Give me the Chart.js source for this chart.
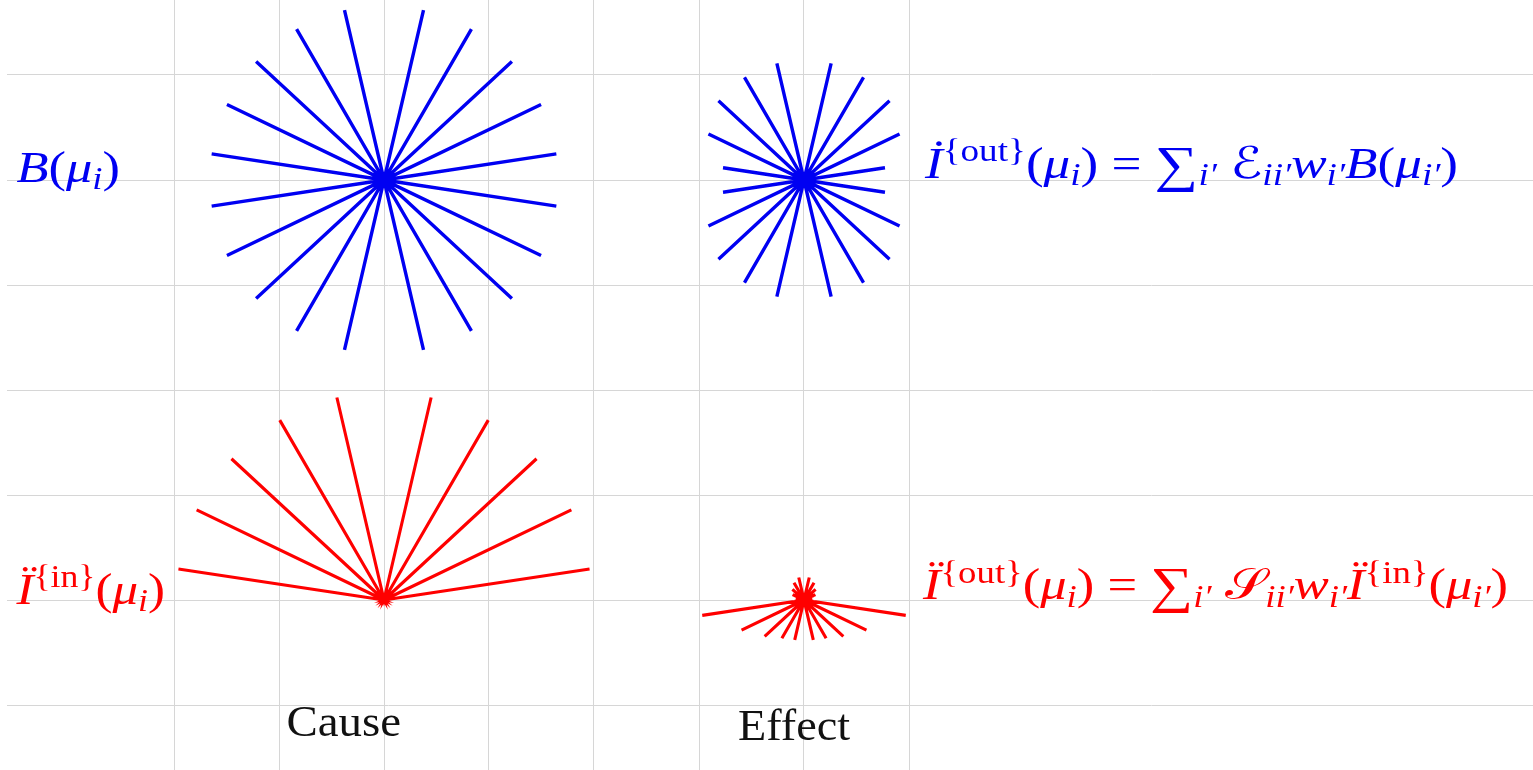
<!DOCTYPE html>
<html>
<head>
<meta charset="utf-8">
<title>Cause and effect</title>
<script src="https://cdn.jsdelivr.net/npm/chart.js@4.4.1/dist/chart.umd.min.js"></script>
<style>
  html, body { margin: 0; padding: 0; background: #fff; }
  canvas { display: block; }
</style>
</head>
<body>
<canvas id="chart" width="1533" height="770"></canvas>
<script>
// ray directions above the horizontal, in degrees (the mu_i directions)
const rayAngles = [8.6, 25.7, 42.8, 59.9, 76.9];

// ray lengths in grid units, for the upper and the lower half of each star
const causeBUp = [1.66, 1.66, 1.66, 1.66, 1.66];
const causeBDown = [1.66, 1.66, 1.66, 1.66, 1.66];
const effectBUp = [0.78, 1.01, 1.11, 1.13, 1.14];
const effectBDown = [0.78, 1.01, 1.11, 1.13, 1.14];
const causeIUp = [1.98, 1.98, 1.98, 1.98, 1.98];
const causeIDown = [0, 0, 0, 0, 0];
const effectIUp = [0.08, 0.12, 0.15, 0.19, 0.22];
const effectIDown = [0.98, 0.66, 0.51, 0.42, 0.39];

// star centres (grid units)
const causeX = 0;
const effectX = 4;
const rowB = 0;
const rowI = -4;

// grid lines
const gridX = [-2, -1, 0, 1, 2, 3, 4, 5];
const gridY = [1, 0, -1, -2, -3, -4, -5];

const BLUE = '#0000f2';
const RED = '#ff0000';
const FAMILY = "'Liberation Serif', 'DejaVu Serif', 'DejaVu Sans', serif";

// build one star as a path that goes out to each tip and back to the centre
function star(cx, cy, up, down) {
  const pts = [{ x: cx, y: cy }];
  const rays = [];
  rayAngles.forEach((deg, k) => {
    const a = deg * Math.PI / 180;
    rays.push([a, up[k]], [Math.PI - a, up[k]], [-a, down[k]], [Math.PI + a, down[k]]);
  });
  rays.sort((p, q) => p[0] - q[0]);
  rays.forEach(([a, len]) => {
    if (!len) return;
    pts.push({ x: cx + len * Math.cos(a), y: cy + len * Math.sin(a) });
    pts.push({ x: cx, y: cy });
  });
  return pts;
}

function starSet(label, data, color, width) {
  return {
    label,
    data,
    showLine: true,
    borderColor: color,
    borderWidth: width,
    borderJoinStyle: 'miter',
    borderCapStyle: 'butt',
    pointRadius: 0,
    tension: 0,
    fill: false,
  };
}

// math labels: runs of [text, italic, level (1 sup, -1 sub), scale]
const texts = [
  { color: BLUE, x0: -3.50, x1: -2.514, y: -0.019, size: 44,
    runs: [['B', 1], ['(', 0], ['μ', 1], ['i', 1, -1], [')', 0]] },
  { color: BLUE, x0: 5.152, x1: 10.229, y: 0.019, size: 44,
    runs: [['İ', 1], ['{out}', 0, 1], ['(', 0], ['μ', 1], ['i', 1, -1], [')', 0], [' = ', 0],
      ['∑', 0, 0, 1.15], ['i′', 1, -1], [' ', 0], ['ℰ', 0], ['ii′', 1, -1], ['w', 1], ['i′', 1, -1],
      ['B', 1], ['(', 0], ['μ', 1], ['i′', 1, -1], [')', 0]] },
  { color: RED, x0: -3.50, x1: -2.086, y: -4.038, size: 44,
    runs: [['Ï', 1], ['{in}', 0, 1], ['(', 0], ['μ', 1], ['i', 1, -1], [')', 0]] },
  { color: RED, x0: 5.133, x1: 10.705, y: -3.995, size: 44,
    runs: [['Ï', 1], ['{out}', 0, 1], ['(', 0], ['μ', 1], ['i', 1, -1], [')', 0], [' = ', 0],
      ['∑', 0, 0, 1.15], ['i′', 1, -1], [' ', 0], ['𝒮', 0], ['ii′', 1, -1], ['w', 1], ['i′', 1, -1],
      ['Ï', 1], ['{in}', 0, 1], ['(', 0], ['μ', 1], ['i′', 1, -1], [')', 0]] },
  { color: '#111', x0: -0.929, x1: 0.162, y: -5.295, size: 44, runs: [['Cause', 0]] },
  { color: '#111', x0: 3.371, x1: 4.438, y: -5.333, size: 44, runs: [['Effect', 0]] },
];

const mathLabels = {
  id: 'mathLabels',
  afterDatasetsDraw(chart) {
    const ctx = chart.ctx;
    const sx = chart.scales.x;
    const sy = chart.scales.y;
    texts.forEach((t) => {
      const parts = t.runs.map(([s, it, level, scale]) => {
        const lv = level || 0;
        const size = t.size * (lv ? 0.7 : 1) * (scale || 1);
        const font = (it ? 'italic ' : '') + size + 'px ' + FAMILY;
        ctx.font = font;
        const dy = lv > 0 ? -0.38 * t.size : lv < 0 ? 0.17 * t.size : (scale ? 0.06 * t.size : 0);
        return { s, font, dy, w: ctx.measureText(s).width };
      });
      const total = parts.reduce((acc, p) => acc + p.w, 0);
      const left = sx.getPixelForValue(t.x0);
      const right = sx.getPixelForValue(t.x1);
      const base = sy.getPixelForValue(t.y);
      ctx.save();
      ctx.translate(left, base);
      ctx.scale((right - left) / total, 1);
      ctx.fillStyle = t.color;
      ctx.textBaseline = 'alphabetic';
      ctx.textAlign = 'left';
      let x = 0;
      parts.forEach((p) => {
        ctx.font = p.font;
        ctx.fillText(p.s, x, p.dy);
        x += p.w;
      });
      ctx.restore();
    });
  },
};

const gridColor = '#d6d6d6';

new Chart(document.getElementById('chart'), {
  type: 'scatter',
  data: {
    datasets: [
      starSet('B cause', star(causeX, rowB, causeBUp, causeBDown), BLUE, 3.4),
      starSet('B effect', star(effectX, rowB, effectBUp, effectBDown), BLUE, 3.4),
      starSet('I cause', star(causeX, rowI, causeIUp, causeIDown), RED, 3.1),
      starSet('I effect', star(effectX, rowI, effectIUp, effectIDown), RED, 3.1),
    ],
  },
  options: {
    responsive: false,
    animation: false,
    layout: { padding: { left: 7, right: 0, top: 0, bottom: 0 } },
    plugins: {
      legend: { display: false },
      tooltip: { enabled: false },
    },
    scales: {
      x: {
        type: 'linear',
        min: -377 / 105,
        max: 1149 / 105,
        afterBuildTicks: (scale) => { scale.ticks = gridX.map((v) => ({ value: v })); },
        ticks: { display: false },
        grid: { color: gridColor, lineWidth: 1, drawTicks: false },
        border: { display: false },
      },
      y: {
        type: 'linear',
        min: -590 / 105,
        max: 180 / 105,
        afterBuildTicks: (scale) => { scale.ticks = gridY.map((v) => ({ value: v })); },
        ticks: { display: false },
        grid: { color: gridColor, lineWidth: 1, drawTicks: false },
        border: { display: false },
      },
    },
  },
  plugins: [mathLabels],
});
</script>
</body>
</html>
